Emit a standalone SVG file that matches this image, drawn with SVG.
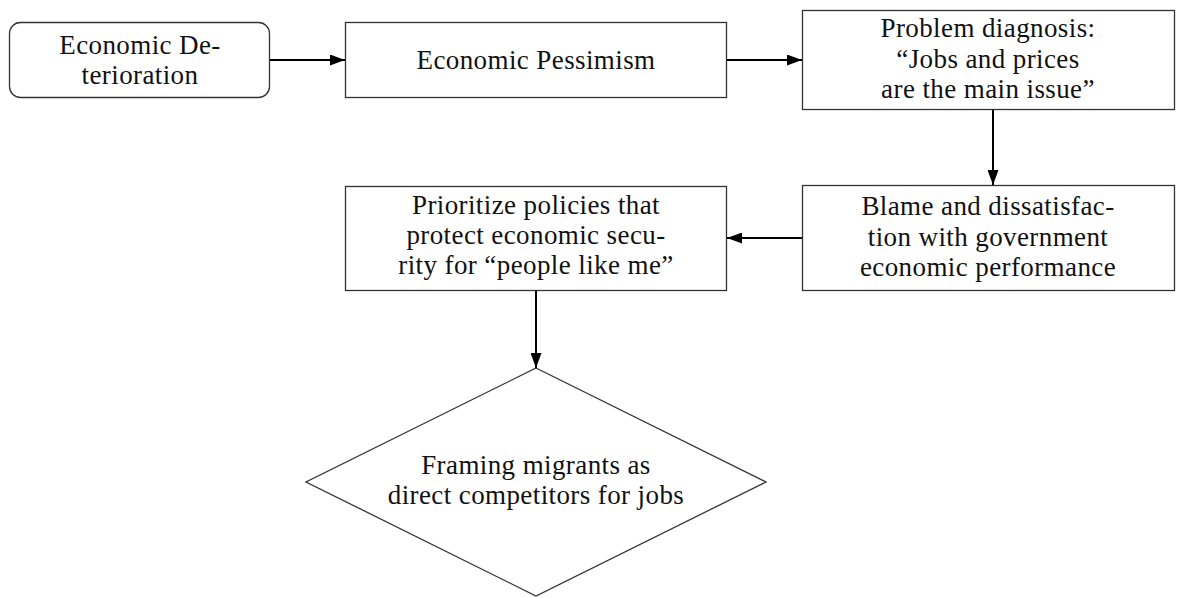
<svg xmlns="http://www.w3.org/2000/svg" width="1185" height="598" viewBox="0 0 1185 598">
<style>
.box{fill:#fff;stroke:#333;stroke-width:1.3}
.t{font-family:"Liberation Serif","Times New Roman",serif;font-size:27px;letter-spacing:0.4px;fill:#111;text-anchor:middle}
.c{stroke:#000;stroke-width:2;fill:none;marker-end:url(#ah)}
</style>
<defs>
<marker id="ah" viewBox="0 0 15 11" refX="15" refY="5.5" markerWidth="15" markerHeight="11" markerUnits="userSpaceOnUse" orient="auto">
<path d="M0,0 L15,5.5 L0,11 Z" fill="#000"/>
</marker>
</defs>
<g id="n1">
<rect class="box" x="9.5" y="22.5" width="260" height="75" rx="11"/>
<text class="t" x="140" y="54">Economic De-</text>
<text class="t" x="140" y="84">terioration</text>
</g>
<g id="n2">
<rect class="box" x="345.5" y="22.5" width="381" height="75"/>
<text class="t" x="536" y="69">Economic Pessimism</text>
</g>
<g id="n3">
<rect class="box" x="802.5" y="10.5" width="372" height="99"/>
<text class="t" x="988" y="37">Problem diagnosis:</text>
<text class="t" x="988" y="68">“Jobs and prices</text>
<text class="t" x="988" y="98">are the main issue”</text>
</g>
<g id="n4">
<rect class="box" x="802.5" y="185.5" width="372" height="105"/>
<text class="t" x="988" y="215">Blame and dissatisfac-</text>
<text class="t" x="988" y="246">tion with government</text>
<text class="t" x="988" y="276">economic performance</text>
</g>
<g id="n5">
<rect class="box" x="345.5" y="186.5" width="381" height="104"/>
<text class="t" x="536" y="214">Prioritize policies that</text>
<text class="t" x="536" y="244">protect economic secu-</text>
<text class="t" x="536" y="274">rity for “people like me”</text>
</g>
<g id="n6">
<polygon class="box" points="536,368 766,482 536,596 306,482"/>
<text class="t" x="536" y="474">Framing migrants as</text>
<text class="t" x="536" y="504">direct competitors for jobs</text>
</g>
<g id="connectors">
<line class="c" x1="270" y1="60" x2="345" y2="60"/>
<line class="c" x1="727" y1="60" x2="802" y2="60"/>
<line class="c" x1="993" y1="110" x2="993" y2="185"/>
<line class="c" x1="802" y1="238" x2="727" y2="238"/>
<line class="c" x1="536" y1="291" x2="536" y2="368"/>
</g>
</svg>
